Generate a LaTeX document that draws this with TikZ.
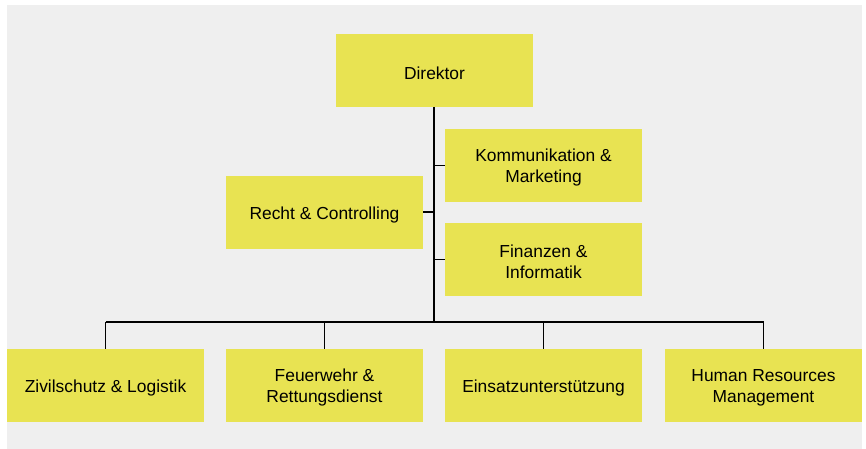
\documentclass[tikz,border=0pt]{standalone}
\usepackage{fontspec}
\setmainfont{Liberation Sans}
\usetikzlibrary{positioning}
\definecolor{boxyellow}{HTML}{E8E352}
\definecolor{bggray}{HTML}{EFEFEF}

\begin{document}
\begin{tikzpicture}[x=1pt, y=1pt,
        unit/.style={fill=boxyellow, minimum width=197pt, minimum height=72.5pt, inner sep=0pt,
            label={[yshift=-2.4pt, align=center, inner sep=0pt, font=\fontsize{17.4}{21}\selectfont]center:{#1}}},
        link/.style={line width=1.8pt, black}]
                \useasboundingbox (0,0) rectangle (866,449);
                \fill[bggray] (7,0) rectangle (862,444);

                % Draw the head
                \node[unit={Direktor}] (dir) at (434.5,378.5) {};

                % Draw the staff units
                \node[unit={Kommunikation \&\\Marketing}] (komm) at (543.5,283.5) {};
                \node[unit={Recht \& Controlling}] (recht) at (324.5,236.6) {};
                \node[unit={Finanzen \&\\Informatik}] (fin) at (543.5,189.5) {};

                % Draw the departments
                \node[unit={Zivilschutz \& Logistik}] (zivil) at (105.5,63.7) {};
                \node[unit={Feuerwehr \&\\Rettungsdienst}] (feuer) at (324.5,63.7) {};
                \node[unit={Einsatzunterstützung}] (einsatz) at (543.5,63.7) {};
                \node[unit={Human Resources\\Management}] (hr) at (763.5,63.7) {};

                \coordinate (bus) at (434,126.7);

                % Draw the trunk from the head down to the bus
                \draw[link] (dir.south -| bus) -- (bus);

                % Draw the staff branches
                \draw[link] (komm.west) -- (komm.west -| bus);
                \draw[link] (recht.east) -- (recht.east -| bus);
                \draw[link] (fin.west) -- (fin.west -| bus);

                % Draw the bus and the drops to the departments
                \draw[link] (zivil.north |- bus) -- (hr.north |- bus);
                \draw[link] (zivil.north) -- (zivil.north |- bus);
                \draw[link] (feuer.north) -- (feuer.north |- bus);
                \draw[link] (einsatz.north) -- (einsatz.north |- bus);
                \draw[link] (hr.north) -- (hr.north |- bus);
    \end{tikzpicture}
\end{document}
